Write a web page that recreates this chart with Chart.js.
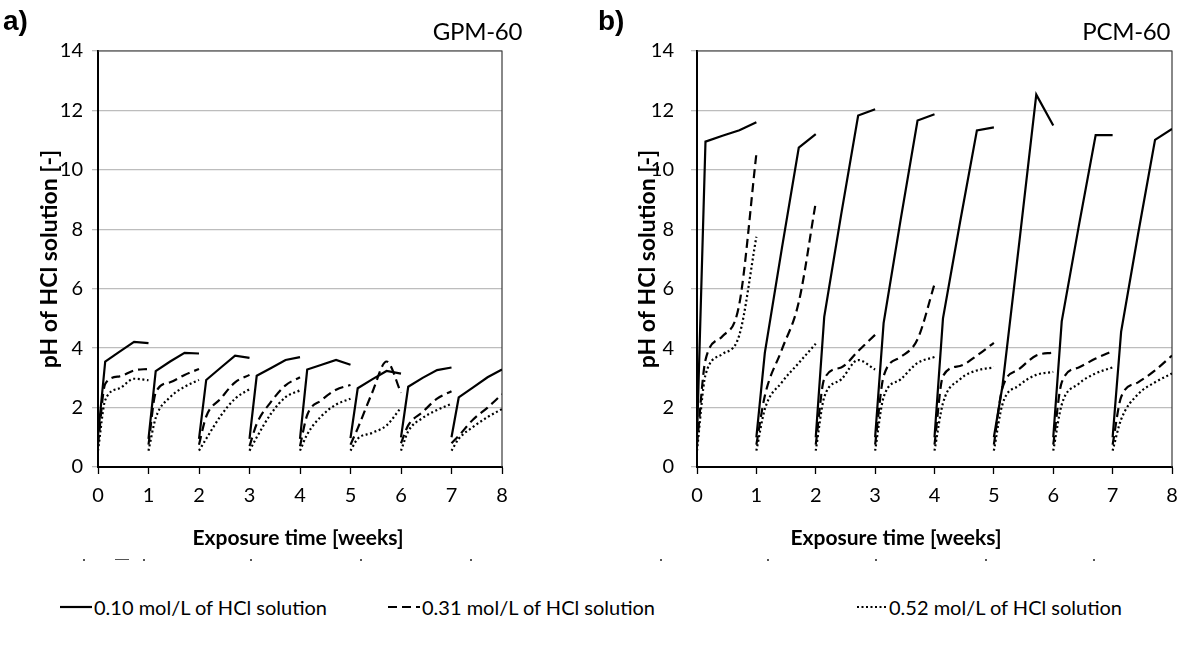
<!DOCTYPE html>
<html>
<head>
<meta charset="utf-8">
<script src="https://cdn.jsdelivr.net/npm/chart.js@4.4.1/dist/chart.umd.min.js"></script>
<style>
  body { margin: 0; background: #fff; font-family: Lato, "Open Sans", sans-serif; }
  #wrap { position: relative; width: 1189px; height: 650px; overflow: hidden; }
  canvas { position: absolute; top: 0; }
  .tag { position: absolute; font-family: "Liberation Sans", Arial, sans-serif; font-weight: bold; font-size: 28px; }
  .ttl { position: absolute; font-size: 24px; letter-spacing: -0.3px; color: #000; }
  .xt { position: absolute; top: 524px; width: 300px; text-align: center; font-size: 21px; font-weight: bold; line-height: 26px; }
  .leg { position: absolute; top: 595px; font-size: 20px; line-height: 24px; color: #000; white-space: nowrap; display: flex; align-items: center; }
  .leg svg { margin-right: 2px; }
  .dot { position: absolute; top: 559px; width: 2px; height: 2px; background: #555; }
</style>
</head>
<body>
<div id="wrap">
  <canvas id="chartA" width="560" height="530" style="left:0"></canvas>
  <canvas id="chartB" width="589" height="530" style="left:600px"></canvas>
  <div class="tag" style="left:3px; top:5px">a)</div>
  <div class="tag" style="left:598px; top:5px">b)</div>
  <div class="ttl" style="right:667px; top:16px">GPM-60</div>
  <div class="ttl" style="right:19px; top:16px">PCM-60</div>
  <div class="xt" style="left:148px">Exposure time [weeks]</div>
  <div class="xt" style="left:746px">Exposure time [weeks]</div>
  <div class="dot" style="left:83px"></div>
  <div class="dot" style="left:115px; width:14px; height:1px"></div>
  <div class="dot" style="left:143px"></div>
  <div class="dot" style="left:250px"></div>
  <div class="dot" style="left:360px"></div>
  <div class="dot" style="left:470px"></div>
  <div class="dot" style="left:660px"></div>
  <div class="dot" style="left:767px"></div>
  <div class="dot" style="left:875px"></div>
  <div class="dot" style="left:985px"></div>
  <div class="dot" style="left:1093px"></div>
  <div class="leg" style="left:60px"><svg width="32" height="10"><line x1="0" y1="5" x2="32" y2="5" stroke="#000" stroke-width="2.2"/></svg>0.10 mol/L of HCl solution</div>
  <div class="leg" style="left:388px"><svg width="32" height="10"><line x1="0" y1="5" x2="32" y2="5" stroke="#000" stroke-width="2.2" stroke-dasharray="9,5"/></svg>0.31 mol/L of HCl solution</div>
  <div class="leg" style="left:857px"><svg width="30" height="10"><line x1="0" y1="5" x2="30" y2="5" stroke="#000" stroke-width="2.2" stroke-dasharray="2,2.5"/></svg>0.52 mol/L of HCl solution</div>
</div>
<script>
// sampling days inside each weekly cycle (fresh acid every week)
const weekDays = [0, 1, 3, 5, 7];
const seriesLabels = ['0.10 mol/L of HCl solution', '0.31 mol/L of HCl solution', '0.52 mol/L of HCl solution'];
const xTicks = [0, 1, 2, 3, 4, 5, 6, 7, 8];
const yTicks = [0, 2, 4, 6, 8, 10, 12, 14];

// GPM-60, pH per week (rows = week 1..8)
const gpm010 = [
  [1.05, 3.55, 3.88, 4.21, 4.17],
  [0.95, 3.23, 3.55, 3.84, 3.82],
  [0.95, 2.93, 3.34, 3.75, 3.67],
  [0.95, 3.07, 3.33, 3.60, 3.70],
  [0.95, 3.28, 3.44, 3.60, 3.44],
  [0.97, 2.65, 2.95, 3.23, 3.14],
  [1.00, 2.70, 3.00, 3.26, 3.35],
  [1.00, 2.34, 2.68, 3.02, 3.28]
];
const gpm031 = [
  [0.75, 2.80, 3.05, 3.25, 3.30],
  [0.75, 2.50, 2.85, 3.10, 3.30],
  [0.75, 1.70, 2.30, 2.85, 3.10],
  [0.70, 1.45, 2.20, 2.75, 3.02],
  [0.70, 1.75, 2.25, 2.60, 2.76],
  [0.75, 1.30, 2.50, 3.55, 2.50],
  [0.80, 1.40, 1.85, 2.30, 2.55],
  [0.80, 1.05, 1.60, 2.00, 2.45]
];
const gpm052 = [
  [0.55, 2.25, 2.65, 2.97, 2.92],
  [0.55, 1.65, 2.35, 2.70, 2.93],
  [0.55, 0.95, 1.72, 2.30, 2.62],
  [0.55, 1.00, 1.80, 2.35, 2.58],
  [0.55, 1.10, 1.72, 2.10, 2.30],
  [0.55, 0.95, 1.15, 1.40, 2.00],
  [0.55, 1.20, 1.65, 1.92, 2.13],
  [0.55, 0.95, 1.35, 1.68, 1.95]
];

// PCM-60
const pcm010 = [
  [1.00, 10.95, 11.15, 11.33, 11.60],
  [1.00, 3.85, 7.35, 10.75, 11.20],
  [1.00, 5.05, 8.50, 11.83, 12.04],
  [1.00, 4.84, 8.31, 11.66, 11.87],
  [1.00, 5.00, 8.22, 11.33, 11.43],
  [1.00, 2.70, 7.57, 12.53, 11.49],
  [1.00, 4.90, 8.09, 11.17, 11.17],
  [1.00, 4.55, 7.84, 11.01, 11.38]
];
const pcm031 = [
  [0.75, 3.60, 4.40, 5.50, 10.54],
  [0.75, 2.40, 3.95, 5.55, 8.90],
  [0.75, 2.96, 3.35, 3.90, 4.45],
  [0.75, 3.05, 3.70, 4.30, 6.15],
  [0.75, 3.06, 3.40, 3.75, 4.18],
  [0.75, 2.65, 3.30, 3.75, 3.85],
  [0.75, 2.85, 3.35, 3.65, 3.90],
  [0.75, 2.35, 2.85, 3.25, 3.75]
];
const pcm052 = [
  [0.55, 3.10, 3.80, 4.45, 7.75],
  [0.55, 1.95, 2.85, 3.50, 4.15],
  [0.55, 2.35, 2.95, 3.60, 3.28],
  [0.55, 2.35, 2.95, 3.50, 3.70],
  [0.55, 2.15, 2.95, 3.25, 3.35],
  [0.55, 2.10, 2.75, 3.10, 3.20],
  [0.55, 2.10, 2.80, 3.15, 3.35],
  [0.55, 1.60, 2.45, 2.85, 3.15]
];

// each week is its own segment, a null point breaks the line
function toPoints(weeks) {
  const pts = [];
  weeks.forEach((vals, w) => {
    vals.forEach((v, i) => pts.push({x: w + weekDays[i] / 7, y: v}));
    pts.push({x: w + 1, y: null});
  });
  return pts;
}

const FONT = 'Lato, "Open Sans", sans-serif';

const frame = {
  id: 'frame',
  beforeDatasetsDraw(chart) {
    const a = chart.chartArea, ctx = chart.ctx;
    ctx.save();
    ctx.strokeStyle = '#3a3a3a';
    ctx.lineWidth = 1.2;
    ctx.beginPath();
    ctx.moveTo(a.left, a.top);
    ctx.lineTo(a.right, a.top);
    ctx.lineTo(a.right, a.bottom);
    ctx.stroke();
    ctx.restore();
  }
};

// plotLeft = y-axis width inside the canvas
function makeChart(id, s1, s2, s3, plotLeft, rightPad, titlePad, labelPad) {
  const styles = [
    {dash: [], mode: 'default'},
    {dash: [9, 5], mode: 'monotone'},
    {dash: [2, 2.6], mode: 'monotone'}
  ];
  const datasets = [s1, s2, s3].map((s, i) => ({
    label: seriesLabels[i],
    data: toPoints(s),
    borderColor: '#000',
    borderWidth: 2.2,
    borderDash: styles[i].dash,
    cubicInterpolationMode: styles[i].mode,
    pointRadius: 0,
    spanGaps: false,
    fill: false
  }));
  return new Chart(document.getElementById(id), {
    type: 'line',
    data: {datasets},
    options: {
      responsive: false,
      animation: false,
      layout: {padding: {top: 51, right: rightPad, left: 0, bottom: 0}},
      plugins: {legend: {display: false}, tooltip: {enabled: false}},
      scales: {
        x: {
          type: 'linear', min: 0, max: 8,
          afterBuildTicks: sc => { sc.ticks = xTicks.map(v => ({value: v})); },
          afterFit: sc => { sc.height = 63; },
          ticks: {color: '#000', font: {family: FONT, size: 20}, padding: 10},
          grid: {drawOnChartArea: false, tickLength: 7, tickColor: '#000', tickWidth: 1.3},
          border: {color: '#000', width: 2}
        },
        y: {
          min: 0, max: 14,
          afterBuildTicks: sc => { sc.ticks = yTicks.map(v => ({value: v})); },
          afterFit: sc => { sc.width = plotLeft; },
          ticks: {color: '#000', font: {family: FONT, size: 20}, padding: labelPad},
          grid: {color: '#bdbdbd', lineWidth: 1.3, tickLength: 6, tickColor: '#bdbdbd'},
          border: {color: '#000', width: 2},
          title: {display: true, text: 'pH of HCl solution [-]', color: '#000',
                  font: {family: FONT, size: 23, weight: 'bold'}, padding: {top: titlePad, bottom: 0}}
        }
      }
    },
    plugins: [frame]
  });
}

makeChart('chartA', gpm010, gpm031, gpm052, 98, 58, 36, 9);
makeChart('chartB', pcm010, pcm031, pcm052, 97, 17, 34, 17);
</script>
</body>
</html>
